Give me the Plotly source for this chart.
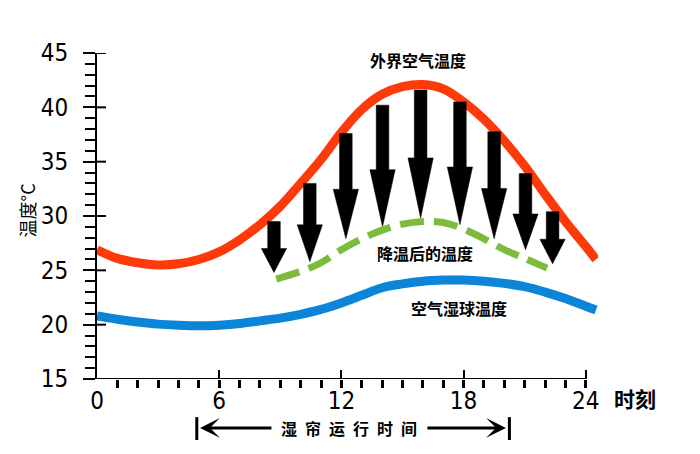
import plotly.graph_objects as go

# ---------------- data ----------------
curve_hours = [0, 1, 2, 3, 4, 5, 6, 7, 8, 9, 10, 11, 12, 13, 14, 15, 16, 17, 18, 19, 20, 21, 22, 23, 24, 24.5]
outside_temp = [26.9, 26.1, 25.7, 25.5, 25.6, 26.0, 26.7, 27.8, 29.2, 30.9, 33.0, 35.2, 37.7, 39.8, 41.2, 41.9,
                42.1, 41.7, 40.5, 38.9, 36.9, 34.6, 32.0, 29.5, 27.2, 26.0]
wetbulb_temp = [20.8, 20.5, 20.25, 20.05, 19.95, 19.9, 19.95, 20.1, 20.35, 20.6, 20.95, 21.4, 22.0, 22.7, 23.4, 23.75,
                24.0, 24.1, 24.1, 24.0, 23.8, 23.5, 23.0, 22.4, 21.7, 21.35]

cooled_hours = [8.8, 10, 11, 12, 13, 14, 15, 16, 17, 18, 19, 20, 21, 22.1]
cooled_temp = [24.2, 24.9, 25.7, 26.9, 27.9, 28.7, 29.25, 29.5, 29.4, 28.8, 27.9, 26.9, 26.1, 25.2]

arrow_hours = [8.69, 10.45, 12.22, 14.02, 15.89, 17.82, 19.5, 21.04, 22.37]
arrow_top = [29.5, 33.0, 37.6, 40.2, 41.6, 40.5, 37.75, 33.9, 30.4]
arrow_tip = [24.8, 25.8, 27.9, 29.0, 29.8, 29.2, 27.9, 26.9, 25.6]

x_ticks = [0, 6, 12, 18, 24]
y_ticks = [15, 20, 25, 30, 35, 40, 45]

run_start, run_end = 4.9, 20.25   # 湿帘运行时间

label_outside = ("外界空气温度", 15.75, 44.4)
label_cooled = ("降温后的温度", 16.1, 26.6)
label_wetbulb = ("空气湿球温度", 17.77, 21.5)

# ---------------- style ----------------
CJK = "Noto Sans CJK SC"
NUM = "Liberation Sans Narrow, DejaVu Sans Condensed, Arial Narrow, sans-serif"
SHAFT_HALF = 0.31    # half shaft width, in hours
HEAD_HALF = 0.62     # half head width, in hours
HEAD_FRAC = 0.47     # fraction of arrow length taken by the head

fig = go.Figure()

fig.add_trace(go.Scatter(x=curve_hours, y=outside_temp, mode="lines",
                         line=dict(color="#ff3a0a", width=9, shape="spline", smoothing=1.0),
                         hoverinfo="skip", showlegend=False))
fig.add_trace(go.Scatter(x=curve_hours, y=wetbulb_temp, mode="lines",
                         line=dict(color="#0a85d8", width=9, shape="spline", smoothing=1.0),
                         hoverinfo="skip", showlegend=False))

# big downward arrows (filled polygons built from the arrow data)
for h, top, tip in zip(arrow_hours, arrow_top, arrow_tip):
    neck = tip + HEAD_FRAC * (top - tip)
    px = [h - SHAFT_HALF, h + SHAFT_HALF, h + SHAFT_HALF, h + HEAD_HALF, h, h - HEAD_HALF, h - SHAFT_HALF,
          h - SHAFT_HALF]
    py = [top, top, neck, neck, tip, neck, neck, top]
    fig.add_trace(go.Scatter(x=px, y=py, mode="lines", fill="toself", fillcolor="black",
                             line=dict(color="black", width=0.5), hoverinfo="skip", showlegend=False))

fig.add_trace(go.Scatter(x=cooled_hours, y=cooled_temp, mode="lines",
                         line=dict(color="#7dbb3c", width=7, shape="spline", smoothing=1.0, dash="24px,10px"),
                         hoverinfo="skip", showlegend=False))

annotations = []
for txt, hx, ty in (label_outside, label_cooled, label_wetbulb):
    annotations.append(dict(x=hx, y=ty, xref="x", yref="y", text=txt, showarrow=False,
                            font=dict(family=CJK, size=16, color="black", weight="bold")))

# axis titles
annotations.append(dict(x=1.073, y=-0.058, xref="paper", yref="paper", xanchor="center", yanchor="middle",
                        text="时刻", showarrow=False,
                        font=dict(family=CJK, size=21, color="black", weight="bold")))
annotations.append(dict(x=-0.139, y=0.518, xref="paper", yref="paper", xanchor="center", yanchor="middle",
                        text="温度°C", textangle=-90,
                        showarrow=False, font=dict(family=CJK, size=18, color="black")))

# 湿帘运行时间 double arrow
arrow_y = -0.150
mid = (run_start + run_end) / 2
annotations.append(dict(x=mid - 0.2, y=arrow_y, xref="x", yref="paper", yanchor="middle",
                        text="湿\u2002帘\u2002运\u2002行\u2002时\u2002间", showarrow=False,
                        font=dict(family=CJK, size=16, color="black", weight="bold")))
annotations.append(dict(x=run_start + 0.16, y=arrow_y, xref="x", yref="paper", ax=run_start + 3.74, ay=0,
                        axref="x", ayref="pixel", text=" ", font=dict(size=1), showarrow=True,
                        arrowhead=3, arrowsize=1.1, arrowwidth=3, arrowcolor="black", standoff=0))
annotations.append(dict(x=run_end - 0.17, y=arrow_y, xref="x", yref="paper", ax=run_end - 4.1, ay=0,
                        axref="x", ayref="pixel", text=" ", font=dict(size=1), showarrow=True,
                        arrowhead=3, arrowsize=1.1, arrowwidth=3, arrowcolor="black", standoff=0))

shapes = [
    # x axis line (ends at 24)
    dict(type="line", xref="x", yref="y", x0=0, x1=x_ticks[-1], y0=y_ticks[0], y1=y_ticks[0],
         line=dict(color="black", width=2)),
    dict(type="line", xref="x", yref="paper", x0=run_start, x1=run_start, y0=-0.117, y1=-0.187,
         line=dict(color="black", width=3)),
    dict(type="line", xref="x", yref="paper", x0=run_end, x1=run_end, y0=-0.117, y1=-0.187,
         line=dict(color="black", width=3)),
]
# inside half of the major y ticks (they cross the axis in the reference)
for v in y_ticks:
    shapes.append(dict(type="line", xref="paper", yref="y", x0=0, x1=0.018, y0=v, y1=v,
                       line=dict(color="black", width=2)))

fig.update_layout(
    width=700, height=454,
    margin=dict(l=97, r=102, t=53, b=75),
    paper_bgcolor="white", plot_bgcolor="white",
    showlegend=False,
    annotations=annotations,
    shapes=shapes,
    xaxis=dict(range=[0, 24.6], tickvals=x_ticks, ticktext=[str(v) for v in x_ticks],
               ticks="inside", ticklen=9, tickwidth=2, tickcolor="black",
               minor=dict(ticks="outside", dtick=1, tick0=0, ticklen=8, tickwidth=3, tickcolor="black",
                          showgrid=False),
               showline=False, showgrid=False, zeroline=False, ticklabelstandoff=5,
               tickfont=dict(family=NUM, size=24, color="black")),
    yaxis=dict(range=[15, 45], tickvals=y_ticks, ticktext=[str(v) for v in y_ticks],
               ticks="outside", ticklen=12, tickwidth=2, tickcolor="black",
               minor=dict(ticks="outside", dtick=1, tick0=15, ticklen=10, tickwidth=2, tickcolor="black",
                          showgrid=False),
               showline=True, linecolor="black", linewidth=2, showgrid=False, zeroline=False,
               ticklabelstandoff=10,
               tickfont=dict(family=NUM, size=24, color="black")),
)

fig.write_html("out.html")
